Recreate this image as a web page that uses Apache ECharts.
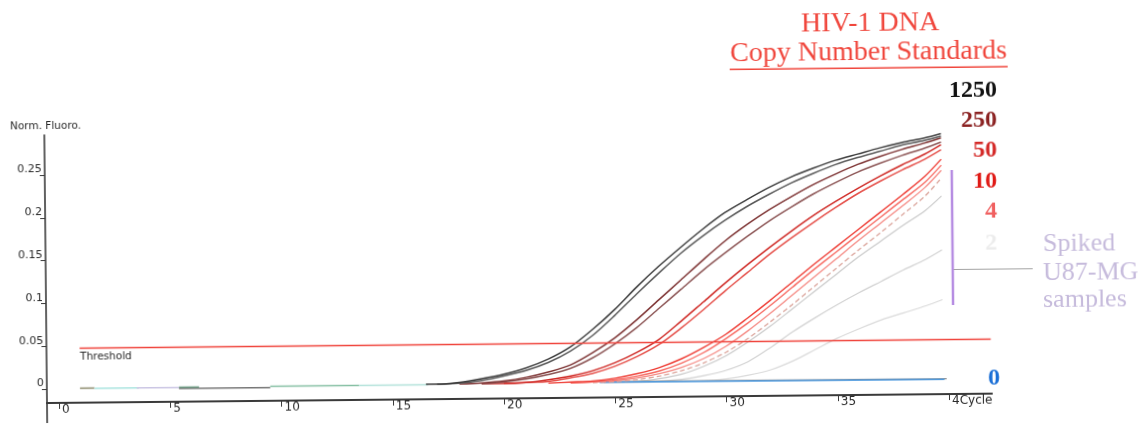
<!DOCTYPE html>
<html>
<head>
<meta charset="utf-8">
<script src="https://cdn.jsdelivr.net/npm/echarts@6/dist/echarts.min.js"></script>
<style>
  html, body { margin: 0; padding: 0; background: #fff; overflow: hidden; }
  /* the scanned plot sits slightly tilted on the page */
  #chart { width: 1148px; height: 430px; transform: rotate(-0.57deg); transform-origin: 50px 403px; }
</style>
</head>
<body>
<div id="chart"></div>
<script>
// ---- axes ----
const xTicks = [0, 5, 10, 15, 20, 25, 30, 35, 40];
const xTickLabels = ['0', '5', '10', '15', '20', '25', '30', '35', '4Cycle'];
const yTicks = [0, 0.05, 0.1, 0.15, 0.2, 0.25];
const xRange = [-0.54, 41.93];
const yRange = [-0.0164, 0.2967];
const thresholdLevel = 0.0473;
const thresholdSpan = [0.95, 41.9];

// ---- amplification curves: [cycle, normalised fluorescence] ----
const std1250a = [[16.5,0.001],[17,0.001],[18,0.003],[19,0.007],[20,0.012],[21,0.019],[22,0.029],[23,0.043],[24,0.063],[25,0.086],[26,0.112],[27,0.136],[28,0.158],[29,0.179],[30,0.198],[31,0.213],[32,0.227],[33,0.239],[34,0.249],[35,0.258],[36,0.265],[37,0.272],[38,0.278],[39,0.283],[39.75,0.288]];
const std1250b = [[17,0.001],[18,0.002],[19,0.005],[20,0.010],[21,0.016],[22,0.025],[23,0.038],[24,0.056],[25,0.079],[26,0.104],[27,0.128],[28,0.151],[29,0.171],[30,0.189],[31,0.205],[32,0.219],[33,0.232],[34,0.243],[35,0.253],[36,0.261],[37,0.268],[38,0.275],[39,0.280],[39.75,0.285]];
const std250a = [[18,0.001],[19,0.002],[20,0.004],[21,0.008],[22,0.014],[23,0.022],[24,0.036],[25,0.053],[26,0.074],[27,0.097],[28,0.120],[29,0.143],[30,0.165],[31,0.184],[32,0.201],[33,0.216],[34,0.230],[35,0.242],[36,0.253],[37,0.262],[38,0.270],[39,0.277],[39.75,0.283]];
const std250b = [[19,0.001],[20,0.003],[21,0.006],[22,0.011],[23,0.018],[24,0.030],[25,0.046],[26,0.065],[27,0.087],[28,0.109],[29,0.131],[30,0.151],[31,0.170],[32,0.188],[33,0.204],[34,0.219],[35,0.232],[36,0.244],[37,0.254],[38,0.263],[39,0.271],[39.75,0.278]];
const std50a = [[19,0.001],[20,0.001],[21,0.002],[22,0.005],[23,0.009],[24,0.015],[25,0.024],[26,0.036],[27,0.051],[28,0.072],[29,0.094],[30,0.116],[31,0.137],[32,0.157],[33,0.176],[34,0.194],[35,0.210],[36,0.225],[37,0.239],[38,0.252],[39,0.264],[39.75,0.275]];
const std50b = [[20,0.001],[21,0.002],[22,0.003],[23,0.007],[24,0.012],[25,0.020],[26,0.031],[27,0.045],[28,0.064],[29,0.085],[30,0.107],[31,0.128],[32,0.149],[33,0.168],[34,0.186],[35,0.203],[36,0.219],[37,0.233],[38,0.246],[39,0.258],[39.75,0.269]];
const std10a = [[22,0.001],[23,0.002],[24,0.003],[25,0.006],[26,0.011],[27,0.018],[28,0.028],[29,0.041],[30,0.056],[31,0.075],[32,0.095],[33,0.116],[34,0.137],[35,0.157],[36,0.177],[37,0.197],[38,0.217],[39,0.238],[39.75,0.258]];
const std10b = [[23,0.001],[24,0.002],[25,0.004],[26,0.008],[27,0.014],[28,0.023],[29,0.035],[30,0.051],[31,0.069],[32,0.089],[33,0.110],[34,0.131],[35,0.151],[36,0.171],[37,0.191],[38,0.211],[39,0.231],[39.75,0.251]];
const std4a = [[23,0.001],[24,0.002],[25,0.003],[26,0.006],[27,0.011],[28,0.018],[29,0.028],[30,0.042],[31,0.060],[32,0.080],[33,0.101],[34,0.122],[35,0.143],[36,0.164],[37,0.184],[38,0.204],[39,0.225],[39.75,0.245]];
const std4b = [[24,0.001],[25,0.002],[26,0.004],[27,0.008],[28,0.014],[29,0.023],[30,0.035],[31,0.051],[32,0.070],[33,0.090],[34,0.111],[35,0.132],[36,0.153],[37,0.173],[38,0.194],[39,0.215],[39.75,0.236]];
const spiked1 = [[24.5,0.001],[26,0.002],[27,0.005],[28,0.010],[29,0.019],[30,0.031],[31,0.047],[32,0.065],[33,0.085],[34,0.105],[35,0.125],[36,0.145],[37,0.163],[38,0.181],[39,0.198],[39.75,0.215]];
const spiked2 = [[24.5,0.001],[27,0.002],[28,0.004],[29,0.008],[30,0.014],[31,0.024],[32,0.040],[33,0.058],[34,0.074],[35,0.089],[36,0.103],[37,0.116],[38,0.129],[39,0.141],[39.75,0.152]];
const spiked3 = [[25,0.001],[29,0.002],[30,0.004],[31,0.008],[32,0.014],[33,0.024],[34,0.037],[35,0.050],[36,0.061],[37,0.071],[38,0.079],[39,0.087],[39.75,0.094]];
const noTemplate = [[24.3,0.0015],[39.8,0.0008]];
const noTemplateGrey = [[24.0,0.0022],[39.9,0.0016]];

// early-cycle baseline traces of the other wells
const base1 = [[0.95,0.0004],[1.6,0.0004]];
const base2 = [[1.6,0.0003],[3.6,0.0003]];
const base3 = [[3.5,0.0002],[5.4,0.0002]];
const base4 = [[5.4,-0.0009],[9.5,-0.0009]];
const base5 = [[5.4,0.0006],[6.3,0.0006]];
const base6 = [[9.5,0.0006],[13.5,0.0006]];
const base7 = [[13.5,0.0005],[16.6,0.0005]];

const uiFont = '"DejaVu Sans", sans-serif';
const serif = '"Liberation Serif", "Times New Roman", serif';

function trace(data, color, width, z, dash) {
  return {
    type: 'line', data: data, smooth: 0.3, showSymbol: false, symbol: 'none',
    lineStyle: { color: color, width: width, type: dash || 'solid' }, itemStyle: { color: color },
    z: z, silent: true, animation: false
  };
}

const series = [
  trace(base1, '#8c8a6c', 1.5, 2),
  trace(base2, '#a9e4df', 1.5, 2),
  trace(base3, '#cbc6e4', 1.5, 2),
  trace(base4, '#777777', 1.5, 2),
  trace(base5, '#6f9f86', 1.5, 3),
  trace(base6, '#86c0a4', 1.5, 2),
  trace(base7, '#b3e2da', 1.5, 2),
  trace(spiked3, '#dadada', 1.2, 3),
  trace(spiked2, '#d2d2d2', 1.2, 3),
  trace(spiked1, '#cacaca', 1.2, 3),
  trace(noTemplateGrey, '#8a8a8a', 1.2, 4),
  trace(noTemplate, '#4f9be0', 1.6, 4),
  trace(std4b, '#dba59c', 1.3, 5, [5, 3]),
  trace(std4a, '#f58a84', 1.3, 5),
  trace(std10b, '#f76a62', 1.4, 6),
  trace(std10a, '#ee3b33', 1.4, 6),
  trace(std50b, '#e5504a', 1.5, 7),
  trace(std50a, '#cf2a26', 1.5, 7),
  trace(std250b, '#8c5555', 1.5, 8),
  trace(std250a, '#7e3434', 1.5, 8),
  trace(std1250b, '#5a5a5a', 1.5, 9),
  trace(std1250a, '#3c3c3c', 1.5, 9),
  {
    type: 'line', data: [[thresholdSpan[0], thresholdLevel], [thresholdSpan[1], thresholdLevel]],
    showSymbol: false, symbol: 'none', lineStyle: { color: '#f0443c', width: 1.6 },
    z: 10, silent: true, animation: false
  }
];

function txt(x, y, text, size, color, opts) {
  const o = opts || {};
  return {
    type: 'text', x: x, y: y, z: 20, silent: true,
    style: {
      text: text, fontSize: size, fill: color,
      fontFamily: o.family || serif, fontWeight: o.weight || 'normal',
      align: o.align || 'left', verticalAlign: 'middle'
    }
  };
}

const graphics = [
  txt(12.8, 126.6, 'Norm. Fluoro.', 10.5, '#2a2a2a', { family: uiFont }),
  txt(80.5, 357.3, 'Threshold', 10.5, '#2a2a2a', { family: uiFont }),
  txt(873.8, 31.7, 'HIV-1 DNA', 28, '#f0463c', { align: 'center' }),
  txt(872, 60.7, 'Copy Number Standards', 28, '#f0463c', { align: 'center' }),
  { type: 'line', z: 20, silent: true, shape: { x1: 733, y1: 76.2, x2: 1011, y2: 76.2 }, style: { stroke: '#f0463c', lineWidth: 1.5 } },
  txt(1000.1, 99.5, '1250', 24, '#111111', { align: 'right', weight: 'bold' }),
  txt(999.8, 129.5, '250', 24, '#8b2222', { align: 'right', weight: 'bold' }),
  txt(999.6, 159.5, '50', 24, '#d42a28', { align: 'right', weight: 'bold' }),
  txt(999.3, 190.5, '10', 24, '#e01a16', { align: 'right', weight: 'bold' }),
  txt(999.1, 221, '4', 24, '#f06060', { align: 'right', weight: 'bold' }),
  txt(998.8, 253, '2', 24, '#ececec', { align: 'right', weight: 'bold' }),
  txt(1000.3, 387.5, '0', 24, '#1a6fd6', { align: 'right', weight: 'bold' }),
  { type: 'line', z: 20, silent: true, shape: { x1: 954, y1: 179, x2: 954, y2: 314 }, style: { stroke: '#b68ce2', lineWidth: 2.5 } },
  { type: 'line', z: 20, silent: true, shape: { x1: 955, y1: 278.5, x2: 1034, y2: 278.5 }, style: { stroke: '#a3a3a3', lineWidth: 1.2 } },
  txt(1044.5, 254, 'Spiked', 26, '#c6bbdc'),
  txt(1044.3, 283, 'U87-MG', 26, '#c6bbdc'),
  txt(1044, 310, 'samples', 26, '#c6bbdc')
];

const chart = echarts.init(document.getElementById('chart'), null, { renderer: 'canvas' });
chart.setOption({
  animation: false,
  backgroundColor: '#ffffff',
  grid: { left: 47, right: 156, top: 135, bottom: 27, containLabel: false },
  xAxis: {
    type: 'value', min: xRange[0], max: xRange[1],
    axisLine: { show: true, onZero: false, lineStyle: { color: '#3a3a3a', width: 2 } },
    axisTick: { show: true, customValues: xTicks, length: 6, lineStyle: { color: '#3a3a3a', width: 1 } },
    axisLabel: {
      show: true, customValues: xTicks, margin: 0, align: 'left', verticalAlign: 'top',
      padding: [1, 0, 0, 3], fontSize: 12, color: '#2a2a2a', fontFamily: uiFont,
      formatter: function (v) { return xTickLabels[xTicks.indexOf(Math.round(v))] || ''; }
    },
    splitLine: { show: false }
  },
  yAxis: {
    type: 'value', min: yRange[0], max: yRange[1],
    axisLine: { show: true, onZero: false, lineStyle: { color: '#3a3a3a', width: 1.6 } },
    axisTick: { show: true, customValues: yTicks, length: 5, lineStyle: { color: '#3a3a3a', width: 1 } },
    axisLabel: {
      show: true, customValues: yTicks, margin: 3, verticalAlign: 'bottom',
      fontSize: 11, color: '#2a2a2a', fontFamily: uiFont,
      formatter: function (v) { return String(+v.toFixed(2)); }
    },
    splitLine: { show: false }
  },
  series: series,
  graphic: graphics
});

// the vertical axis runs on a little below the cycle axis
const corner = chart.convertToPixel({ gridIndex: 0 }, [xRange[0], yRange[0]]);
graphics.push({
  type: 'line', z: 5, silent: true,
  shape: { x1: corner[0], y1: corner[1], x2: corner[0], y2: corner[1] + 20 },
  style: { stroke: '#3a3a3a', lineWidth: 1.6 }
});
chart.setOption({ graphic: graphics });
</script>
</body>
</html>
